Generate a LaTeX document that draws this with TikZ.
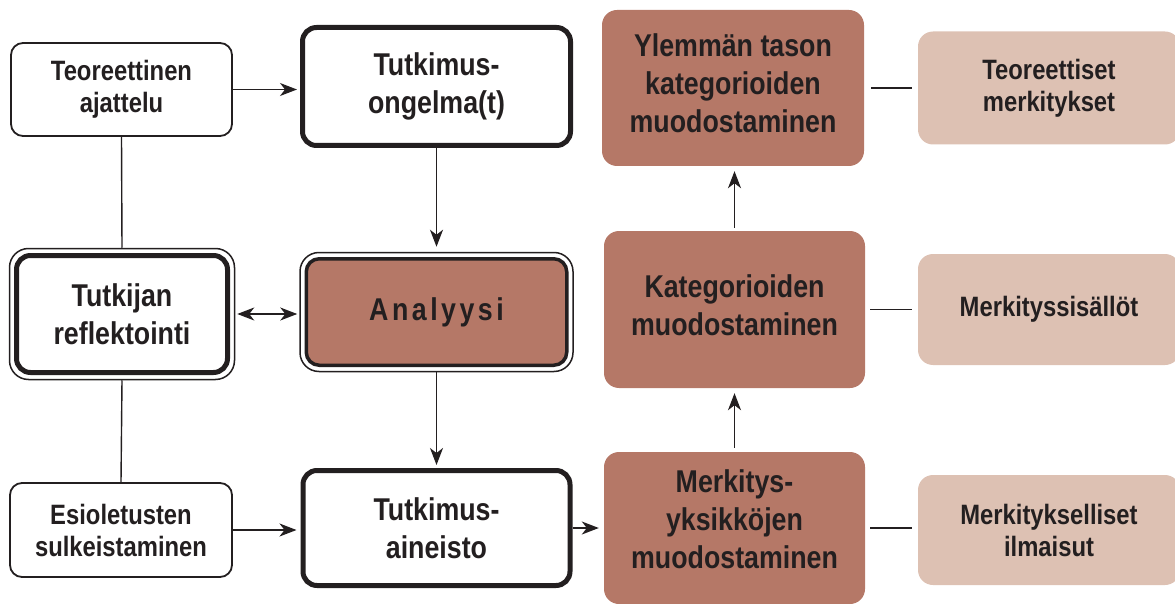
\documentclass[tikz,border=0pt]{standalone}
\usepackage{fontspec}
\setmainfont{Liberation Sans}[FakeStretch=0.85]
\usetikzlibrary{arrows.meta,fit}
\definecolor{ink}{HTML}{231F20}
\definecolor{clay}{HTML}{B57867}
\definecolor{sand}{HTML}{DDC1B3}
\newcommand\lsp{\kern3.5pt}
\begin{document}
\begin{tikzpicture}[x=1pt,y=-1pt,
  every node/.style={align=center, text=ink, inner sep=0pt},
  txtS/.style={font=\bfseries\fontsize{28}{32}\selectfont},
  txtL/.style={font=\bfseries\fontsize{31.5}{38}\selectfont},
  thinbox/.style={draw=ink, line width=1.8pt, rounded corners=12pt, fill=white, txtS},
  thickbox/.style={draw=ink, line width=5pt, rounded corners=14pt, fill=white, txtL},
  framebox/.style={draw=ink, line width=1.5pt, rounded corners=19pt, inner sep=4.5pt},
  claybox/.style={fill=clay, rounded corners=15pt},
  sandbox/.style={fill=sand, rounded corners=15pt, txtS},
  link/.style={draw=ink, line width=1.4pt},
  arr/.style={link, -{Stealth[length=17pt,width=13pt,inset=5pt]}},
  darr/.style={link, {Stealth[length=17pt,width=13pt,inset=5pt]}-{Stealth[length=17pt,width=13pt,inset=5pt]}},
]
\useasboundingbox (0,0) rectangle (1175,604);
\clip (0,0) rectangle (1175,604);

% left column
\node[thinbox, minimum width=221pt, minimum height=93pt] (teo) at (121.5,89.5) {Teoreettinen\\ajattelu};
\node[thickbox, minimum width=211pt, minimum height=117pt] (ref) at (122,314) {Tutkijan\\reflektointi};
\node[framebox, fit=(ref)] (refo) {};
\node[thinbox, minimum width=222pt, minimum height=94pt] (esi) at (121,530) {Esioletusten\\sulkeistaminen};

% middle column
\node[thickbox, minimum width=268pt, minimum height=118pt] (ong) at (436.5,86.5) {Tutkimus-\\ongelma(t)};
\node[thickbox, fill=clay, line width=3.5pt, rounded corners=13pt, minimum width=260.5pt, minimum height=106.5pt] (ana) at (436.5,312) {A\lsp n\lsp a\lsp l\lsp y\lsp y\lsp s\lsp i};
\node[framebox, fit=(ana)] (anao) {};
\node[thickbox, minimum width=267pt, minimum height=115pt] (ain) at (436.5,528) {Tutkimus-\\aineisto};

% process column: boxes, then their texts set a little above centre
\node[claybox, minimum width=262pt, minimum height=156pt] (ylem) at (733,88) {};
\node[txtL] (ylemtxt) at (733,83.5) {Ylemmän tason\\kategorioiden\\muodostaminen};
\node[claybox, minimum width=261pt, minimum height=157pt] (kat) at (734.5,309.5) {};
\node[txtL] (kattxt) at (734.5,305) {Kategorioiden\\muodostaminen};
\node[claybox, minimum width=261pt, minimum height=152pt] (merk) at (734.5,528) {};
\node[txtL] (merktxt) at (734.5,519) {Merkitys-\\yksikköjen\\muodostaminen};

% meaning column
\node[sandbox, minimum width=262pt, minimum height=113pt] (teom) at (1049,88) {Teoreettiset\\merkitykset};
\node[sandbox, minimum width=262pt, minimum height=111pt] (sis) at (1049,309.5) {Merkityssisällöt};
\node[sandbox, minimum width=262pt, minimum height=110pt] (ilm) at (1049,530) {Merkitykselliset\\ilmaisut};

% connectors
\draw[arr, shorten >=3pt] (teo.east) -- (teo.east -| ong.west);
\draw[arr, shorten >=4pt] (esi.east) -- (esi.east -| ain.west);
\draw[darr, shorten <=2pt, shorten >=2pt] (refo.east) -- (refo.east -| anao.west);
\draw[arr, shorten >=5pt] (ong.south) -- (anao.north);
\draw[arr, shorten >=3pt] (anao.south) -- (ain.north);
\draw[arr, shorten >=5pt] (ain.east) -- (ain.east -| merk.west);
\draw[arr, shorten <=4pt, shorten >=5pt] (merk.north) -- (kat.south);
\draw[arr, shorten <=3pt, shorten >=5pt] (kat.north) -- (kat.north |- ylem.south);
\draw[link] (teo.south) -- (refo.north);
\draw[link] (refo.south) -- (esi.north);
\draw[link, shorten <=7pt, shorten >=6pt] (ylem.east) -- (ylem.east -| teom.west);
\draw[link, shorten <=5pt, shorten >=6pt] (kat.east) -- (kat.east -| sis.west);
\draw[link, shorten <=5pt, shorten >=6pt] (merk.east) -- (merk.east -| ilm.west);
\end{tikzpicture}
\end{document}
